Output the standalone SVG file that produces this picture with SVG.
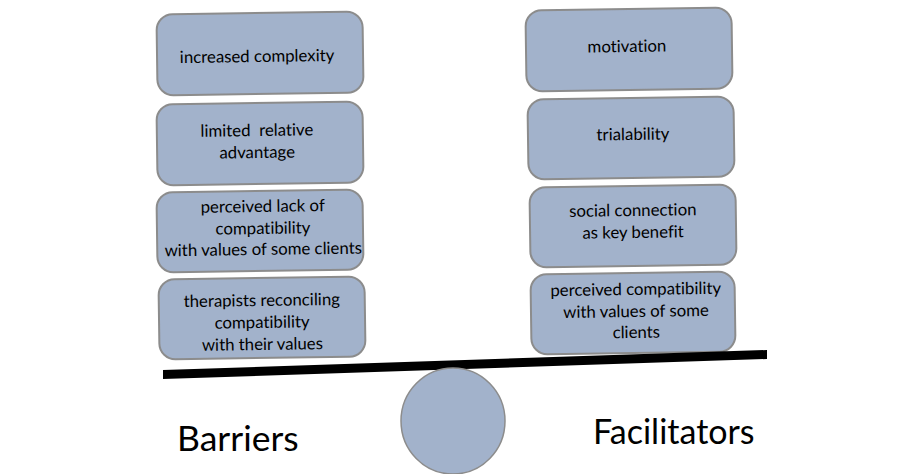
<svg xmlns="http://www.w3.org/2000/svg" width="900" height="474" viewBox="0 0 900 474">
<style>
.box{fill:#a2b2cb;stroke:#8c8c8c;stroke-width:2}
.t{font-family:Lato,"Open Sans",sans-serif;font-size:16.8px;fill:#000;text-anchor:middle;font-variant-ligatures:none}
.big{font-family:Lato,"Open Sans",sans-serif;font-size:34px;fill:#000;font-variant-ligatures:none}
</style>
<rect width="900" height="474" fill="#fff"/>
<g id="b1" transform="rotate(-0.8 260 53)"><rect class="box" x="157" y="13" width="206" height="81" rx="16"/><text class="t" x="257" y="62">increased complexity</text></g>
<g id="b2" transform="rotate(-0.8 260 143)"><rect class="box" x="157" y="103" width="206" height="81" rx="16"/><text class="t" x="257" y="136" xml:space="preserve">limited  relative</text><text class="t" x="257" y="158">advantage</text></g>
<g id="b3" transform="rotate(-0.8 260 231)"><rect class="box" x="157" y="191" width="206" height="80" rx="16"/><text class="t" x="263" y="212">perceived lack of</text><text class="t" x="263" y="234">compatibility</text><text class="t" x="263" y="255">with values of some clients</text></g>
<g id="b4" transform="rotate(-0.8 262 318)"><rect class="box" x="159" y="278" width="206" height="80" rx="16"/><text class="t" x="262" y="306">therapists reconciling</text><text class="t" x="262" y="328">compatibility</text><text class="t" x="262" y="350">with their values</text></g>
<g id="f1" transform="rotate(-0.8 629 49)"><rect class="box" x="526" y="9" width="206" height="81" rx="16"/><text class="t" x="627" y="52">motivation</text></g>
<g id="f2" transform="rotate(-0.8 631 138)"><rect class="box" x="528" y="98" width="206" height="80" rx="16"/><text class="t" x="633" y="140">trialability</text></g>
<g id="f3" transform="rotate(-0.8 633 226)"><rect class="box" x="530" y="186" width="206" height="80" rx="16"/><text class="t" x="633" y="216">social connection</text><text class="t" x="633" y="238">as key benefit</text></g>
<g id="f4" transform="rotate(-0.8 633 313)"><rect class="box" x="531" y="273" width="204" height="80" rx="16"/><text class="t" x="636" y="295">perceived compatibility</text><text class="t" x="636" y="317">with values of some</text><text class="t" x="636" y="338">clients</text></g>
<g id="scale">
<polygon points="163,370 767,350 767,359 163,379" fill="#000"/>
<ellipse cx="453" cy="421" rx="52" ry="53" fill="#a2b2cb" stroke="#8c8c8c" stroke-width="1.5"/>
</g>
<text id="barriers" class="big" x="177" y="451" style="font-size:35.5px">Barriers</text>
<text id="facilitators" class="big" x="593" y="444">Facilitators</text>
</svg>
